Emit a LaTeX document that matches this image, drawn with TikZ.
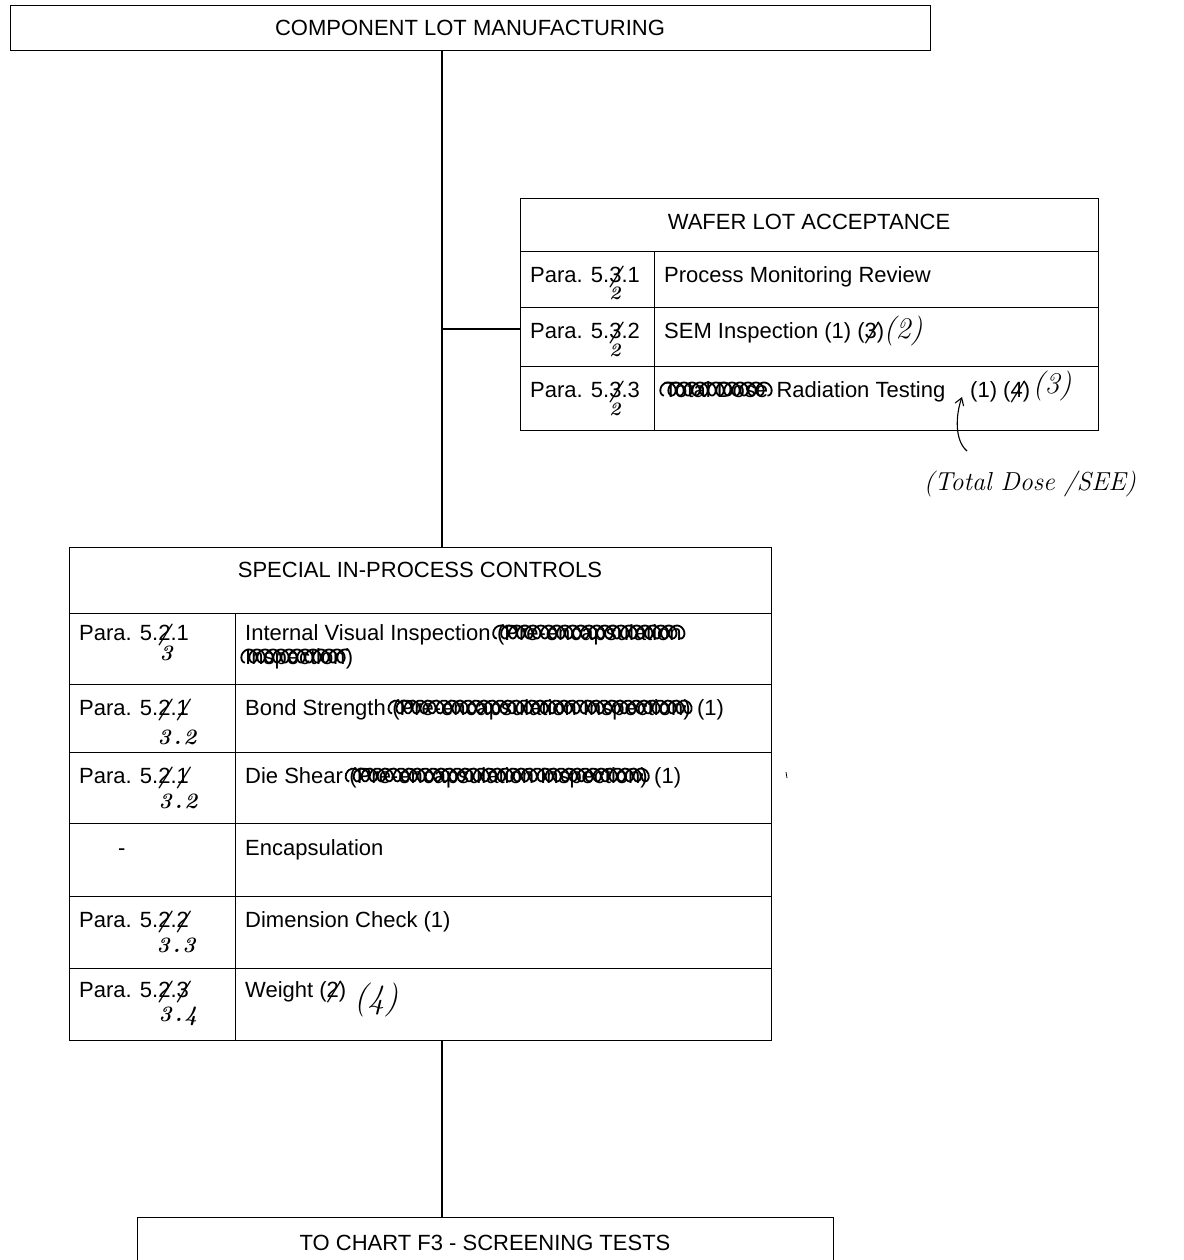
\documentclass[tikz,border=0pt]{standalone}
\usepackage{fontspec}
\newfontfamily\arial{Liberation Sans}
\usetikzlibrary{calc,arrows.meta}
\newcommand\xo[1]{\ooalign{#1\cr\hidewidth{\rmfamily\itshape\bfseries /}\hidewidth\cr}}
\tikzset{
  box/.style={draw, line width=1.1pt, rectangle, inner sep=0pt, anchor=north west},
  ptxt/.style={inner sep=0pt, anchor=base west, font=\arial\fontsize{22}{26}\selectfont},
  ctxt/.style={ptxt, anchor=base},
  hand/.style={inner sep=0pt, anchor=center, font=\rmfamily\itshape\bfseries\fontsize{22}{26}\selectfont},
  link/.style={line width=1.1pt},
  scribl/.style={line width=1.8pt, line join=round},
}
\newcommand\scribover[1]{%
  \draw[scribl] let \p1=(#1.base west), \p2=(#1.base east), \n1={(\x2-\x1)/8} in
    plot[variable=\t, domain=0:1, samples=400]
    ({\x1+\t*(\x2-\x1)-5.5pt*sin(\t*\n1*360)}, {\y1+8pt-6.5pt*cos(\t*\n1*360)});}
\begin{document}
\begin{tikzpicture}[x=1pt,y=-1pt]
\useasboundingbox (0,0) rectangle (1183,1260);

% top box
\node[box, minimum width=920pt, minimum height=45pt] (clm) at (10,5) {};
\node[ctxt] (clmT) at (470,36) {COMPONENT LOT MANUFACTURING};

% wafer lot acceptance
\node[box, minimum width=578pt, minimum height=53pt] (wh) at (520,198) {};
\node[ctxt] (whT) at (809,229) {WAFER LOT ACCEPTANCE};
\node[box, minimum width=134pt, minimum height=56pt] (wa1) at (520,251) {};
\node[box, minimum width=444pt, minimum height=56pt] (wb1) at (654,251) {};
\node[box, minimum width=134pt, minimum height=59pt] (wa2) at (520,307) {};
\node[box, minimum width=444pt, minimum height=59pt] (wb2) at (654,307) {};
\node[box, minimum width=134pt, minimum height=64pt] (wa3) at (520,366) {};
\node[box, minimum width=444pt, minimum height=64pt] (wb3) at (654,366) {};

\node[ptxt] (wp1) at (530,282) {Para. 5.\xo{3}.1};
\node[ptxt] (wp2) at (530,338) {Para. 5.\xo{3}.2};
\node[ptxt] (wp3) at (530,397) {Para. 5.\xo{3}.3};
\node[hand, font=\rmfamily\itshape\bfseries\fontsize{19}{22}\selectfont] (wh1) at (615,293) {2};
\node[hand, font=\rmfamily\itshape\bfseries\fontsize{19}{22}\selectfont] (wh2) at (615,350) {2};
\node[hand, font=\rmfamily\itshape\bfseries\fontsize{19}{22}\selectfont] (wh3) at (615,409) {2};

\node[ptxt] (pmr) at (664,282) {Process Monitoring Review};
\node[ptxt] (sem) at (664,338) {SEM Inspection (1) (\xo{3})};
\node[hand, font=\rmfamily\itshape\fontsize{30}{34}\selectfont] (semh) at (903,331) {(2)};
\node[ptxt] (td) at (664,397) {Total Dose};
\node[ptxt] (rt) at ([xshift=8pt]td.base east) {Radiation Testing};
\node[ptxt] (rt1) at (970,397) {(1) (\xo{4})};
\node[hand, font=\rmfamily\itshape\fontsize{30}{34}\selectfont] (rth) at (1052,386) {(3)};
\scribover{td}

% caret and added note
\node[hand, font=\rmfamily\itshape\fontsize{26}{30}\selectfont] (tdsee) at (1030,484) {(Total Dose /SEE)};
\coordinate (cTail) at (967,451);
\coordinate (cTip) at (962,397);
\draw[line width=1.1pt, -{Straight Barb[length=7pt,width=9pt]}] (cTail) .. controls (954,440) and (956,414) .. (cTip);

% special in-process controls
\node[box, minimum width=702pt, minimum height=66pt] (sh) at (69,547) {};
\node[ctxt] (shT) at (420,577) {SPECIAL IN-PROCESS CONTROLS};
\node[box, minimum width=166pt, minimum height=71pt] (sa1) at (69,613) {};
\node[box, minimum width=536pt, minimum height=71pt] (sb1) at (235,613) {};
\node[box, minimum width=166pt, minimum height=68pt] (sa2) at (69,684) {};
\node[box, minimum width=536pt, minimum height=68pt] (sb2) at (235,684) {};
\node[box, minimum width=166pt, minimum height=71pt] (sa3) at (69,752) {};
\node[box, minimum width=536pt, minimum height=71pt] (sb3) at (235,752) {};
\node[box, minimum width=166pt, minimum height=73pt] (sa4) at (69,823) {};
\node[box, minimum width=536pt, minimum height=73pt] (sb4) at (235,823) {};
\node[box, minimum width=166pt, minimum height=72pt] (sa5) at (69,896) {};
\node[box, minimum width=536pt, minimum height=72pt] (sb5) at (235,896) {};
\node[box, minimum width=166pt, minimum height=72pt] (sa6) at (69,968) {};
\node[box, minimum width=536pt, minimum height=72pt] (sb6) at (235,968) {};

\node[ptxt] (sp1) at (79,640) {Para. 5.\xo{2}.1};
\node[ptxt] (sp2) at (79,715) {Para. 5.\xo{2}.\xo{1}};
\node[ptxt] (sp3) at (79,783) {Para. 5.\xo{2}.\xo{1}};
\node[ptxt] (sp4) at (118,855) {-};
\node[ptxt] (sp5) at (79,927) {Para. 5.\xo{2}.\xo{2}};
\node[ptxt] (sp6) at (79,997) {Para. 5.\xo{2}.\xo{3}};
\node[hand] (sh1) at (166,653) {3};
\node[hand] (sh2) at (177,737) {3\hspace{3pt}.\hspace{2pt}2};
\node[hand] (sh3) at (178,801) {3\hspace{3pt}.\hspace{2pt}2};
\node[hand] (sh5) at (176,945) {3\hspace{3pt}.\hspace{2pt}3};
\node[hand] (sh6) at (178,1016) {3\hspace{3pt}.\hspace{2pt}4};

\node[ptxt] (iv) at (245,640) {Internal Visual Inspection};
\node[ptxt] (ivp) at ([xshift=6pt]iv.base east) {(Pre-encapsulation};
\node[ptxt] (ivi) at (245,664) {Inspection};
\node[ptxt] (ivc) at (ivi.base east) {)};
\scribover{ivp}
\scribover{ivi}

\node[ptxt] (bs) at (245,715) {Bond Strength};
\node[ptxt] (bsp) at ([xshift=6pt]bs.base east) {(Pre-encapsulation Inspection)};
\node[ptxt] (bs1) at ([xshift=6pt]bsp.base east) {(1)};
\scribover{bsp}

\node[ptxt] (ds) at (245,783) {Die Shear};
\node[ptxt] (dsp) at ([xshift=6pt]ds.base east) {(Pre-encapsulation Inspection)};
\node[ptxt] (ds1) at ([xshift=6pt]dsp.base east) {(1)};
\scribover{dsp}

\node[ptxt] (enc) at (245,855) {Encapsulation};
\node[ptxt] (dim) at (245,927) {Dimension Check (1)};
\node[ptxt] (wt) at (245,997) {Weight (\xo{2})};
\node[hand, font=\rmfamily\itshape\fontsize{34}{38}\selectfont] (wth) at (376,1000) {(4)};

% stray mark
\draw[line width=0.8pt] (786,772) -- (787,778);

% bottom box
\node[box, minimum width=696pt, minimum height=60pt] (tc) at (137,1217) {};
\node[ctxt] (tcT) at (485,1250) {TO CHART F3 - SCREENING TESTS};

% connectors
\coordinate (spine) at (442,0);
\coordinate (branch) at (442,329);
\draw[link] (clm.south -| spine) -- (sh.north -| spine);
\draw[link] (branch) -- (wa2.west |- branch);
\draw[link] (sb6.south -| spine) -- (tc.north -| spine);
\end{tikzpicture}
\end{document}
